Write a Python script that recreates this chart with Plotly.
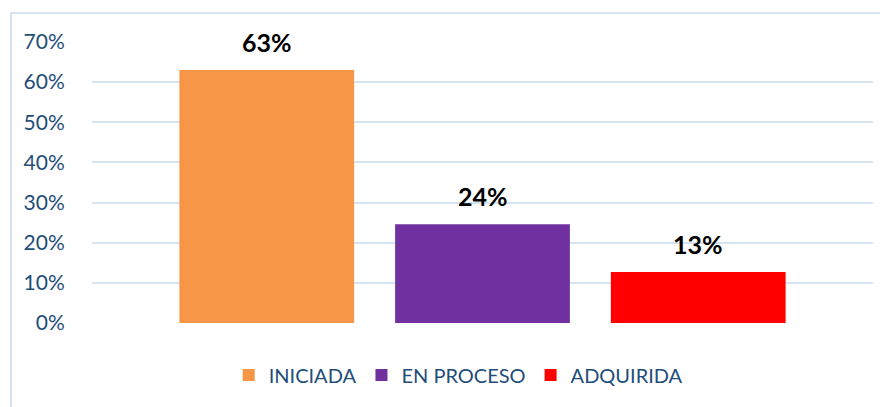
import plotly.graph_objects as go

# data
categories = ["INICIADA", "EN PROCESO", "ADQUIRIDA"]
values = [0.63, 0.246, 0.127]
labels = ["63%", "24%", "13%"]
colors = ["#F79646", "#7030A0", "#FF0000"]

y_ticks = [0, 0.1, 0.2, 0.3, 0.4, 0.5, 0.6, 0.7]
y_ticktext = ["0%", "10%", "20%", "30%", "40%", "50%", "60%", "70%"]

FONT = "Lato, Arial, sans-serif"

fig = go.Figure()

for cat, val, col in zip(categories, values, colors):
    fig.add_trace(go.Bar(
        x=[cat],
        y=[val],
        name=cat,
        marker=dict(color=col, line=dict(width=0)),
        width=0.81,
        hoverinfo="skip",
    ))

# value labels above bars
for cat, val, lab in zip(categories, values, labels):
    fig.add_annotation(
        x=cat, y=val, text="<b>" + lab + "</b>",
        showarrow=False, yanchor="middle", yshift=28,
        font=dict(family=FONT, size=25, color="#000000"),
    )

# outer chart border
fig.add_shape(
    type="rect", xref="paper", yref="paper",
    x0=-0.1037, x1=1.03, y0=-0.32, y1=1.103,
    line=dict(color="#D6E3F3", width=2), layer="below",
)

# page body has an 8px margin, so the figure is 8px smaller and margins compensate
fig.update_layout(
    width=880,
    height=399,
    margin=dict(l=84, r=15, t=34, b=84),
    paper_bgcolor="white",
    plot_bgcolor="white",
    barmode="overlay",
    showlegend=True,
    legend=dict(
        orientation="h",
        x=0.175, xanchor="left",
        y=-0.185, yanchor="middle",
        font=dict(family=FONT, size=20, color="#1F4E79"),
        itemclick=False,
    ),
    font=dict(family=FONT, color="#1F4E79"),
)

fig.update_xaxes(
    type="category",
    categoryorder="array",
    categoryarray=categories,
    range=[-0.81, 2.81],
    showticklabels=False,
    showgrid=False,
    zeroline=False,
    showline=False,
    ticks="",
)

fig.update_yaxes(
    range=[0, 0.7],
    tickvals=y_ticks,
    ticktext=y_ticktext,
    tickfont=dict(family=FONT, size=21, color="#1F4E79"),
    showgrid=True,
    gridcolor="#D6E3F3",
    gridwidth=2,
    zeroline=False,
    showline=False,
    ticks="outside",
    ticklen=22,
    tickcolor="rgba(0,0,0,0)",
)

fig.write_html("out.html")
